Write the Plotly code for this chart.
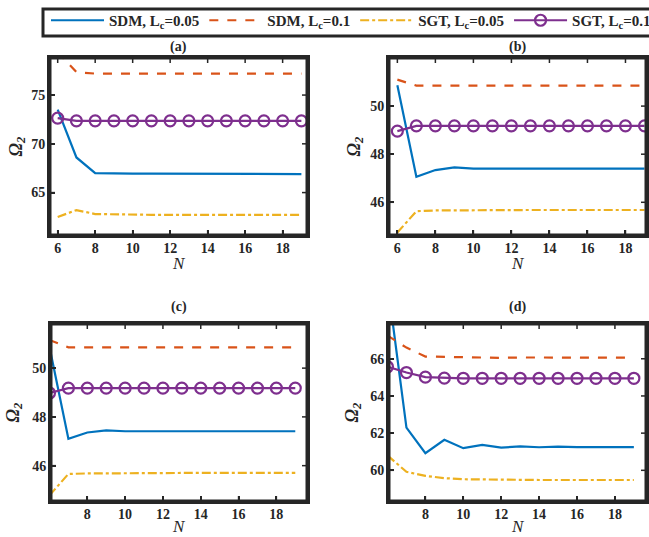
import plotly.graph_objects as go

N = list(range(6, 20))

# Panel (a)
a_sdm005 = [73.5, 68.6, 67.0, 66.95, 66.95, 66.95, 66.95, 66.95, 66.95, 66.95, 66.95, 66.95, 66.9, 66.9]
a_sdm01 = [79.4, 77.35, 77.2, 77.2, 77.2, 77.2, 77.2, 77.2, 77.2, 77.2, 77.2, 77.2, 77.2, 77.2]
a_sgt005 = [62.5, 63.2, 62.8, 62.75, 62.72, 62.72, 62.72, 62.72, 62.72, 62.72, 62.72, 62.72, 62.72, 62.72]
a_sgt01 = [72.64, 72.36, 72.36, 72.36, 72.36, 72.36, 72.36, 72.36, 72.36, 72.36, 72.36, 72.36, 72.36, 72.36]

# Panel (b)
b_sdm005 = [50.87, 47.06, 47.34, 47.45, 47.4, 47.4, 47.4, 47.4, 47.4, 47.4, 47.4, 47.4, 47.4, 47.4]
b_sdm01 = [51.1, 50.85, 50.85, 50.85, 50.85, 50.85, 50.85, 50.85, 50.85, 50.85, 50.85, 50.85, 50.85, 50.85]
b_sgt005 = [44.74, 45.63, 45.66, 45.67, 45.68, 45.68, 45.68, 45.68, 45.68, 45.68, 45.68, 45.68, 45.68, 45.68]
b_sgt01 = [48.96, 49.18, 49.18, 49.18, 49.18, 49.18, 49.18, 49.18, 49.18, 49.18, 49.18, 49.18, 49.18, 49.18]

# Panel (c)
c_sdm005 = [50.87, 47.1, 47.36, 47.45, 47.41, 47.41, 47.41, 47.41, 47.41, 47.41, 47.41, 47.41, 47.41, 47.41]
c_sdm01 = [51.15, 50.85, 50.85, 50.85, 50.85, 50.85, 50.85, 50.85, 50.85, 50.85, 50.85, 50.85, 50.85, 50.85]
c_sgt005 = [44.78, 45.66, 45.68, 45.69, 45.7, 45.7, 45.7, 45.7, 45.7, 45.7, 45.7, 45.7, 45.7, 45.7]
c_sgt01 = [48.98, 49.18, 49.18, 49.18, 49.18, 49.18, 49.18, 49.18, 49.18, 49.18, 49.18, 49.18, 49.18, 49.18]

# Panel (d)
d_sdm005 = [70.1, 62.3, 60.92, 61.64, 61.19, 61.37, 61.22, 61.29, 61.24, 61.27, 61.25, 61.26, 61.25, 61.25]
d_sdm01 = [67.25, 66.6, 66.12, 66.1, 66.07, 66.06, 66.05, 66.07, 66.06, 66.06, 66.06, 66.06, 66.06, 66.06]
d_sgt005 = [60.8, 59.92, 59.7, 59.58, 59.52, 59.5, 59.49, 59.48, 59.48, 59.48, 59.48, 59.48, 59.48, 59.48]
d_sgt01 = [65.57, 65.26, 65.01, 64.96, 64.95, 64.95, 64.95, 64.95, 64.95, 64.95, 64.95, 64.95, 64.95, 64.95]

panel_titles = ["(a)", "(b)", "(c)", "(d)"]
panel_series = [[a_sdm005, a_sdm01, a_sgt005, a_sgt01],
                [b_sdm005, b_sdm01, b_sgt005, b_sgt01],
                [c_sdm005, c_sdm01, c_sgt005, c_sgt01],
                [d_sdm005, d_sdm01, d_sgt005, d_sgt01]]
x_ranges = [[5.59, 19.3], [5.56, 19.08], [6.08, 19.62], [6.08, 19.64]]
y_ranges = [[60.65, 78.8], [44.64, 52.0], [44.55, 51.81], [58.35, 67.87]]
x_ticks = [[6, 8, 10, 12, 14, 16, 18], [6, 8, 10, 12, 14, 16, 18],
           [8, 10, 12, 14, 16, 18], [8, 10, 12, 14, 16, 18]]
y_ticks = [[65, 70, 75], [46, 48, 50], [46, 48, 50], [60, 62, 64, 66]]

names = ["<b>SDM, L<sub>c</sub>=0.05</b>", "<b>SDM, L<sub>c</sub>=0.1</b>",
         "<b>SGT, L<sub>c</sub>=0.05</b>", "<b>SGT, L<sub>c</sub>=0.1</b>"]
colors = ["#0072BD", "#D95319", "#EDB120", "#7E2F8E"]
dashes = ["solid", "dash", "dashdot", "solid"]

W, H = 649, 537
# pixel boxes: (left, right, top, bottom)
boxes = [(50, 307, 58, 235), (389, 646, 58, 235), (51, 307, 324, 501), (389, 646, 324, 501)]
title_y = [47, 47, 307, 307]
ntitle_y = [263, 263, 526, 526]
otitle_x = [17, 355, 14, 353]

FONT = "Liberation Serif"
INK = "#262626"
fig = go.Figure()
layout = dict(width=W, height=H, margin=dict(l=0, r=0, t=0, b=0, autoexpand=False),
              paper_bgcolor="white", plot_bgcolor="white",
              font=dict(family=FONT, color=INK))
annotations = []
shapes = []
TL = 5  # tick length px
for i in range(4):
    k = "" if i == 0 else str(i + 1)
    xa, ya = "x" + k, "y" + k
    for j, s in enumerate(panel_series[i]):
        mode = "lines+markers" if j == 3 else "lines"
        fig.add_trace(go.Scatter(
            x=N, y=s, mode=mode, name=names[j], legendgroup=str(j),
            showlegend=(i == 0), xaxis=xa, yaxis=ya,
            line=dict(color=colors[j], width=2.2, dash=dashes[j]),
            marker=dict(symbol="circle-open", size=11, color=colors[j],
                        line=dict(width=2.2, color=colors[j])),
        ))
    l, r, t, b = boxes[i]
    ax = dict(showgrid=False, zeroline=False, showline=True, mirror=True,
              linewidth=3, linecolor=INK, ticks="inside", ticklen=TL,
              tickwidth=1.5, tickcolor=INK,
              tickfont=dict(family=FONT, size=14, color=INK))
    layout["xaxis" + k] = dict(ax, domain=[l / W, r / W], range=x_ranges[i], tickvals=x_ticks[i],
                               ticktext=["<b>%d</b>" % v for v in x_ticks[i]], anchor=ya,
                               ticklabelstandoff=-2)
    layout["yaxis" + k] = dict(ax, domain=[1 - b / H, 1 - t / H], range=y_ranges[i], tickvals=y_ticks[i],
                               ticktext=["<b>%d</b>" % v for v in y_ticks[i]], anchor=xa,
                               ticklabelstandoff=-1)
    # frame
    shapes.append(dict(type="rect", xref=xa + " domain", yref=ya + " domain",
                       x0=0, x1=1, y0=0, y1=1, line=dict(color=INK, width=3),
                       fillcolor="rgba(0,0,0,0)", layer="above"))
    fx = TL / (r - l)
    fy = TL / (b - t)
    for v in x_ticks[i]:
        for y0, y1 in ((0, fy), (1 - fy, 1)):
            shapes.append(dict(type="line", xref=xa, yref=ya + " domain", x0=v, x1=v,
                               y0=y0, y1=y1, line=dict(color=INK, width=1.5), layer="above"))
    for v in y_ticks[i]:
        for x0, x1 in ((0, fx), (1 - fx, 1)):
            shapes.append(dict(type="line", xref=xa + " domain", yref=ya, x0=x0, x1=x1,
                               y0=v, y1=v, line=dict(color=INK, width=1.5), layer="above"))
    annotations.append(dict(text="<b>" + panel_titles[i] + "</b>", x=(l + r) / 2 / W, y=1 - title_y[i] / H,
                            xref="paper", yref="paper", showarrow=False,
                            xanchor="center", yanchor="middle",
                            font=dict(family=FONT, size=14, color=INK)))
    annotations.append(dict(text="<i>N</i>", x=(l + r) / 2 / W, y=1 - ntitle_y[i] / H,
                            xref="paper", yref="paper", showarrow=False,
                            xanchor="center", yanchor="middle",
                            font=dict(family=FONT, size=17, color=INK)))
    annotations.append(dict(text="<b><i>Ω</i></b><sub><b><i>2</i></b></sub>", textangle=-90,
                            x=otitle_x[i] / W, y=1 - (t + b) / 2 / H,
                            xref="paper", yref="paper", showarrow=False,
                            xanchor="center", yanchor="middle",
                            font=dict(family=FONT, size=18, color=INK)))
# legend frame (box runs past the right edge, as in the reference)
shapes.append(dict(type="rect", xref="paper", yref="paper", x0=43 / W, x1=(W + 6) / W,
                   y0=1 - 36 / H, y1=1 - 9 / H, line=dict(color=INK, width=3),
                   fillcolor="white", layer="below"))
layout["annotations"] = annotations
layout["shapes"] = shapes
layout["legend"] = dict(orientation="h", x=46 / W, y=1 - 4 / H, xanchor="left", yanchor="top",
                        borderwidth=0, bgcolor="rgba(0,0,0,0)",
                        itemwidth=53, tracegroupgap=0,
                        font=dict(family=FONT, size=15, color=INK))
fig.update_layout(**layout)
fig.write_html("out.html")
